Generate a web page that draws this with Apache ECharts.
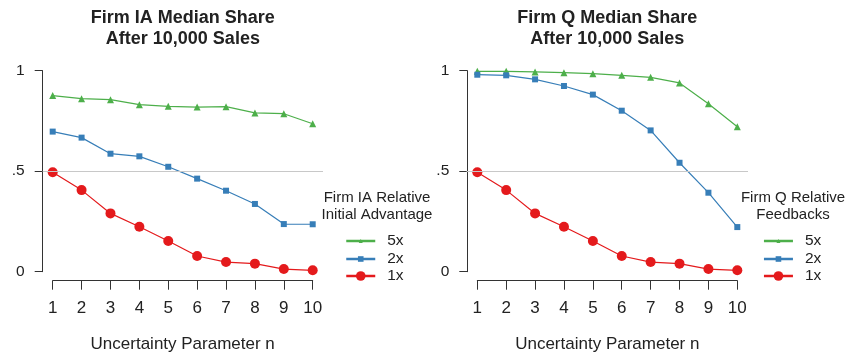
<!DOCTYPE html>
<html>
<head>
<meta charset="utf-8">
<script src="https://cdn.jsdelivr.net/npm/echarts@6/dist/echarts.min.js"></script>
<style>
html,body{margin:0;padding:0;background:#fff;}
#chart{width:845px;height:354px;}
</style>
</head>
<body>
<div id="chart"></div>
<script>
var nValues = [1, 2, 3, 4, 5, 6, 7, 8, 9, 10];
var seriesNames = ['5x', '2x', '1x'];
var iaFive = [0.876, 0.861, 0.856, 0.831, 0.823, 0.819, 0.821, 0.790, 0.786, 0.736];
var iaTwo  = [0.697, 0.667, 0.587, 0.574, 0.522, 0.463, 0.403, 0.337, 0.237, 0.236];
var iaOne  = [0.495, 0.406, 0.290, 0.224, 0.153, 0.078, 0.048, 0.040, 0.013, 0.007];
var qFive  = [0.997, 0.997, 0.994, 0.990, 0.985, 0.977, 0.967, 0.939, 0.836, 0.721];
var qTwo   = [0.980, 0.977, 0.957, 0.924, 0.881, 0.801, 0.703, 0.542, 0.393, 0.222];
var qOne   = [0.495, 0.406, 0.290, 0.224, 0.153, 0.078, 0.048, 0.040, 0.013, 0.007];
var yTicks = [0, 0.5, 1];
var yTickLabels = ['0', '.5', '1'];
var refLevel = 0.5;

var FONT = '"Liberation Sans", Arial, Helvetica, sans-serif';
var TXT = '#222';
var colors = {'5x': '#4daf4a', '2x': '#377eb8', '1x': '#e41a1c'};
var symbols = {'5x': 'triangle', '2x': 'rect', '1x': 'circle'};
var symSizes = {'5x': 7, '2x': 6, '1x': 10};
var legendItemH = {'5x': 5, '2x': 7, '1x': 12};

function pairs(vals) { return nValues.map(function (n, i) { return [n, vals[i]]; }); }

var chart = echarts.init(document.getElementById('chart'), null, {renderer: 'canvas'});

var panels = [
  {title: 'Firm IA Median Share\nAfter 10,000 Sales', legendTitle: 'Firm IA Relative\nInitial Advantage',
   data: {'5x': iaFive, '2x': iaTwo, '1x': iaOne},
   innerLeft: 52.7, outerLeft: 42.7, outerRight: 323, legTitleX: 377, legLeft: 345},
  {title: 'Firm Q Median Share\nAfter 10,000 Sales', legendTitle: 'Firm Q Relative\nFeedbacks',
   data: {'5x': qFive, '2x': qTwo, '1x': qOne},
   innerLeft: 477.3, outerLeft: 466.6, outerRight: 748, legTitleX: 793, legLeft: 762.7}
];

var grids = [], xAxes = [], yAxes = [], series = [], titles = [], legends = [];
var plotTop = 70.7, plotH = 201, innerW = 260;
var legendCenters = {'5x': 241, '2x': 259, '1x': 276};

panels.forEach(function (p, pi) {
  var gMain = grids.length;
  grids.push({left: p.innerLeft, top: plotTop, width: innerW, height: plotH, containLabel: false, outerBoundsMode: 'none'});
  var gBack = grids.length;
  grids.push({left: p.outerLeft, top: plotTop, width: p.outerRight - p.outerLeft, height: plotH, containLabel: false, outerBoundsMode: 'none'});

  xAxes.push({
    gridIndex: gMain, type: 'value', min: 1, max: 10, interval: 1, offset: 9,
    axisLine: {show: true, onZero: false, lineStyle: {color: '#333', width: 1}},
    axisTick: {show: true, length: 9, lineStyle: {color: '#333', width: 1}},
    axisLabel: {color: TXT, fontFamily: FONT, fontSize: 17, margin: 19},
    splitLine: {show: false},
    name: 'Uncertainty Parameter n', nameLocation: 'middle', nameGap: 55,
    nameTextStyle: {color: TXT, fontFamily: FONT, fontSize: 17}
  });
  yAxes.push({
    gridIndex: gMain, type: 'value', min: 0, max: 1, interval: 0.5, offset: 10,
    axisLine: {show: true, onZero: false, lineStyle: {color: '#333', width: 1}},
    axisTick: {show: true, length: 8, lineStyle: {color: '#333', width: 1}},
    axisLabel: {color: TXT, fontFamily: FONT, fontSize: 15.5, margin: 18,
      formatter: function (v) { var k = yTicks.indexOf(v); return k >= 0 ? yTickLabels[k] : ''; }},
    splitLine: {show: false}
  });
  xAxes.push({gridIndex: gBack, type: 'value', min: 0, max: 1, show: false});
  yAxes.push({gridIndex: gBack, type: 'value', min: 0, max: 1, show: false});

  // reference line at 0.5 across the full plot region
  series.push({
    type: 'line', xAxisIndex: gBack, yAxisIndex: gBack, data: [], silent: true, z: 1,
    markLine: {silent: true, symbol: 'none', label: {show: false},
      lineStyle: {color: '#c8c8c8', width: 1, type: 'solid'},
      data: [{yAxis: refLevel}], animation: false}
  });

  seriesNames.forEach(function (nm) {
    series.push({
      name: nm, type: 'line', xAxisIndex: gMain, yAxisIndex: gMain,
      data: pairs(p.data[nm]), symbol: symbols[nm], symbolSize: symSizes[nm],
      showSymbol: true, z: 3, silent: true, animation: false,
      lineStyle: {color: colors[nm], width: 1.2},
      itemStyle: {color: colors[nm], borderWidth: 0}
    });
  });

  titles.push({
    text: p.title, left: (p.outerLeft + p.outerRight) / 2, top: 8, textAlign: 'center', padding: 0,
    textStyle: {fontFamily: FONT, fontSize: 18, fontWeight: 'bold', color: '#222', lineHeight: 21}
  });
  titles.push({
    text: p.legendTitle, left: p.legTitleX, top: 189, textAlign: 'center', padding: 0,
    textStyle: {fontFamily: FONT, fontSize: 15, fontWeight: 'normal', color: TXT, lineHeight: 17}
  });

  seriesNames.forEach(function (nm) {
    var ih = legendItemH[nm];
    legends.push({
      data: [nm], left: p.legLeft, top: legendCenters[nm] - 8, padding: 0, orient: 'vertical',
      itemWidth: 29, itemHeight: ih, selectedMode: false,
      lineStyle: {width: 2.5, color: colors[nm]},
      textStyle: {fontFamily: FONT, fontSize: 15.5, color: TXT, padding: [0, 0, 0, 7]}
    });
  });
});

chart.setOption({
  animation: false,
  backgroundColor: '#fff',
  title: titles,
  legend: legends,
  grid: grids,
  xAxis: xAxes,
  yAxis: yAxes,
  series: series
});
</script>
</body>
</html>
